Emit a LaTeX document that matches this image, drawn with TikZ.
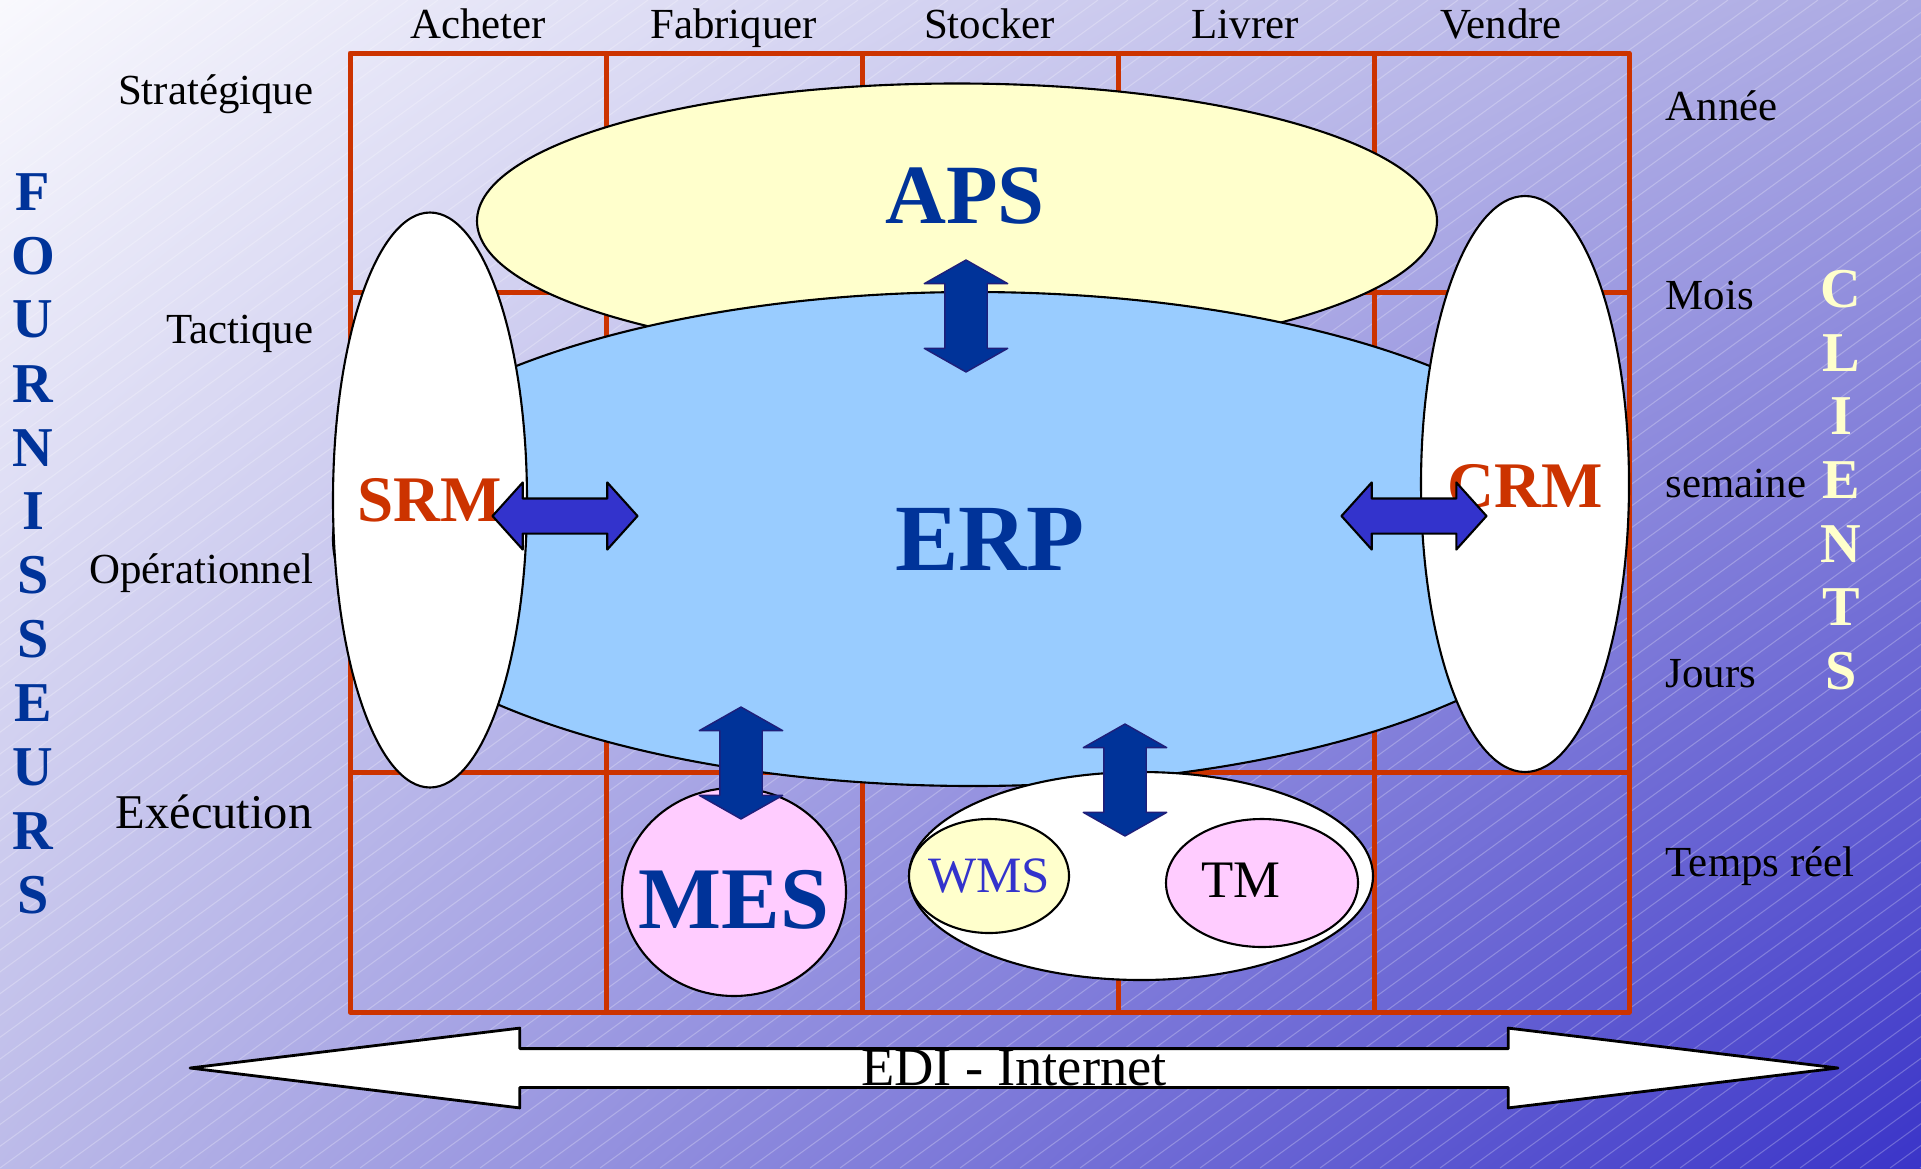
\documentclass[tikz,border=0pt]{standalone}
\usepackage{fontspec}
\setmainfont{Liberation Serif}
\usetikzlibrary{shapes.geometric,shapes.arrows,shadings}
\definecolor{gridred}{HTML}{CC3300}
\definecolor{deepblue}{HTML}{003399}
\definecolor{linkblue}{HTML}{3333CC}
\definecolor{paleyellow}{HTML}{FFFFCC}
\definecolor{palepink}{HTML}{FFCCFF}
\definecolor{skyblue}{HTML}{99CCFF}
\definecolor{bgblue}{HTML}{3A34C8}
\definecolor{bgmid}{HTML}{ABA9E3}
\tikzset{
  ell/.style={ellipse, draw=black, line width=.6pt, inner sep=0pt},
  lbl/.style={font=\fontsize{12.2}{14}\selectfont, inner sep=0pt},
  vletter/.style={font=\fontsize{16}{18}\selectfont\bfseries, inner sep=0pt},
  vlink/.style={double arrow, rotate=90, fill=deepblue, draw=linkblue!60!black,
    line width=.4pt, inner xsep=0pt, inner ysep=2.05mm, minimum height=11.2mm,
    double arrow head extend=2.05mm, double arrow tip angle=121},
  hlink/.style={double arrow, fill=linkblue, draw=black, line width=.6pt,
    inner xsep=0pt, inner ysep=1.65mm, minimum height=14.5mm,
    double arrow head extend=1.6mm, double arrow tip angle=96},
}
\begin{document}
\begin{tikzpicture}[x=0.1mm, y=-0.1mm, line join=round]
\useasboundingbox (0,0) rectangle (1921,1168);
% background
\shade[upper left=white!97!bgblue, upper right=bgmid, lower left=bgmid!80!white,
  lower right=bgblue] (0,0) rectangle (1921,1168);
\begin{scope}
  \clip (0,0) rectangle (1921,1168);
  \foreach \k in {-1620,-1590,...,1921}
    \draw[white, opacity=.25, line width=.3pt] (\k,1168) -- ++(1608,-1168);
\end{scope}
% grid
\foreach \x in {606,862,1118,1374}
  \draw[gridred, line width=.5mm] (\x,53) -- (\x,1012);
\foreach \y in {292,532,772}
  \draw[gridred, line width=.5mm] (350,\y) -- (1629,\y);
\draw[gridred, line width=.5mm] (350,53) rectangle (1629,1012);
% labels
\foreach \t [count=\i] in {Acheter,Fabriquer,Stocker,Livrer,Vendre}
  \node[lbl, anchor=base] (col\i) at ({350+255.8*(\i-0.5)},38) {\t};
\foreach \t/\y [count=\i] in {Stratégique/104,Tactique/343,Opérationnel/583}
  \node[lbl, anchor=base east] (row\i) at (314,\y) {\t};
\node[lbl, font=\fontsize{13.8}{16}\selectfont, anchor=base east] (row4) at (313,828) {Exécution};
\foreach \t/\y [count=\i] in {Année/120,Mois/309,semaine/497,Jours/687,Temps réel/876}
  \node[lbl, anchor=base west] (hor\i) at (1665,\y) {\t};
\foreach \c [count=\i from 0] in {F,O,U,R,N,I,S,S,E,U,R,S}
  \node[vletter, text=deepblue] (four\i) at (33,{192+63.9*\i}) {\c};
\foreach \c [count=\i from 0] in {C,L,I,E,N,T,S}
  \node[vletter, text=paleyellow] (cli\i) at (1841,{289+63.7*\i}) {\c};
% systems
\node[ell, fill=paleyellow, minimum width=96mm, minimum height=27.5mm,
  label={[font=\fontsize{24}{28}\selectfont\bfseries, text=deepblue,
  xshift=.8mm, yshift=2.5mm]center:APS}] (aps) at (957,221) {};
\node[ell, fill=skyblue, minimum width=128mm, minimum height=49.4mm,
  label={[font=\fontsize{27}{30}\selectfont\bfseries, text=deepblue,
  xshift=1.7mm]center:ERP}] (erp) at (973,539) {};
\node[ell, fill=white, minimum width=19.4mm, minimum height=57.5mm,
  label={[font=\fontsize{18.5}{20}\selectfont\bfseries, text=gridred]center:SRM}] (srm) at (430,500) {};
\node[ell, fill=white, minimum width=20.8mm, minimum height=57.6mm,
  label={[font=\fontsize{18.5}{20}\selectfont\bfseries, text=gridred,
  yshift=-.2mm]center:CRM}] (crm) at (1525,484) {};
\node[ell, fill=palepink, minimum width=22.4mm, minimum height=20.8mm,
  label={[font=\fontsize{25}{28}\selectfont\bfseries, text=deepblue,
  yshift=-.8mm]center:MES}] (mes) at (734,892) {};
\node[ell, fill=white, minimum width=46.4mm, minimum height=20.8mm] (wtm) at (1141,876) {};
\node[ell, fill=paleyellow, minimum width=16mm, minimum height=11.4mm,
  label={[font=\fontsize{14.5}{16}\selectfont, text=linkblue]center:WMS}] (wms) at (989,876) {};
\node[ell, fill=palepink, minimum width=19.2mm, minimum height=12.8mm,
  label={[font=\fontsize{15}{17}\selectfont, xshift=-2.1mm, yshift=.3mm]center:TM}] (tm) at (1262,883) {};
% links
\node[vlink] (l1) at (966,316) {};
\node[vlink] (l2) at (741,763) {};
\node[vlink] (l3) at (1125,780) {};
\node[hlink] (l4) at (565,516) {};
\node[hlink] (l5) at (1414,516) {};
\node[double arrow, fill=white, draw=black, line width=.8pt, inner xsep=0pt,
  inner ysep=1.8mm, minimum height=164.8mm, double arrow head extend=2.05mm,
  double arrow tip angle=13.8,
  label={[font=\fontsize{15.5}{18}\selectfont]center:EDI - Internet}] (edi) at (1014,1068) {};
\end{tikzpicture}
\end{document}
